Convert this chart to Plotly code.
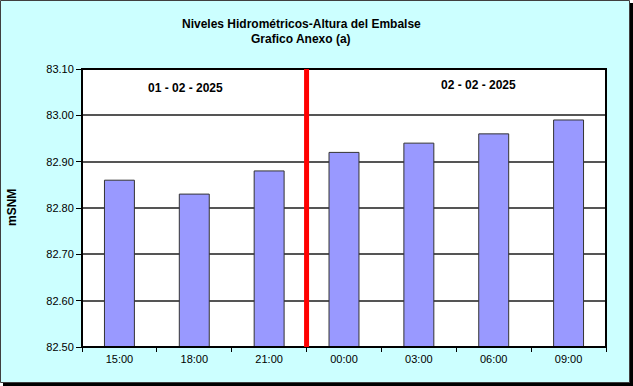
import plotly.graph_objects as go

categories = ["15:00", "18:00", "21:00", "00:00", "03:00", "06:00", "09:00"]
values = [82.86, 82.83, 82.88, 82.92, 82.94, 82.96, 82.99]
day_labels = ["01 - 02 - 2025", "02 - 02 - 2025"]
day1_count = 3
y_ticks = [82.50, 82.60, 82.70, 82.80, 82.90, 83.00, 83.10]

W, H = 633, 386
L, R, T, B = 82, 606, 69, 347

def px(x):
    return (x - L) / (R - L)

def py(y):
    return (B - y) / (B - T)

fig = go.Figure()
fig.add_trace(go.Bar(
    x=categories, y=values,
    marker=dict(color="#9999FF", line=dict(color="#333333", width=1)),
    width=0.4,
))

shapes = [
    # shadow
    dict(type="rect", xref="paper", yref="paper", x0=px(3), x1=px(633), y0=py(386), y1=py(3),
         fillcolor="black", line=dict(width=0), layer="below"),
    # chart area
    dict(type="rect", xref="paper", yref="paper", x0=px(0.5), x1=px(629.5), y0=py(382.5), y1=py(0.5),
         fillcolor="#CCFFFF", line=dict(color="#404040", width=1), layer="below"),
    # plot area
    dict(type="rect", xref="paper", yref="paper", x0=0, x1=1, y0=0, y1=1,
         fillcolor="white", line=dict(width=0), layer="below"),
    # plot border
    dict(type="rect", xref="paper", yref="paper", x0=0, x1=1, y0=0, y1=1,
         line=dict(color="black", width=2), layer="above"),
    # day divider
    dict(type="line", xref="x", yref="paper", x0=day1_count - 0.5, x1=day1_count - 0.5, y0=0, y1=1,
         line=dict(color="#FF0000", width=5), layer="above"),
]

def ann(text, x, y, angle=0):
    return dict(text=text, xref="paper", yref="paper", x=px(x), y=py(y), textangle=angle,
                xanchor="center", yanchor="middle", showarrow=False,
                font=dict(size=12, color="black"))

annotations = [
    ann("<b>Niveles Hidrométricos-Altura del Embalse</b>", 301, 24),
    ann("<b>Grafico Anexo (a)</b>", 301, 39),
    ann("<b>mSNM</b>", 12, 208, -90),
    ann("<b>" + day_labels[0] + "</b>", 185, 88),
    ann("<b>" + day_labels[1] + "</b>", 478, 85),
]

fig.update_layout(
    width=W, height=H,
    margin=dict(l=L, r=W - R, t=T, b=H - B, pad=0),
    paper_bgcolor="white", plot_bgcolor="rgba(0,0,0,0)",
    showlegend=False,
    font=dict(family="Liberation Sans, Arial, sans-serif", size=11, color="black"),
    shapes=shapes, annotations=annotations,
    xaxis=dict(type="category", range=[-0.5, len(categories) - 0.5], showgrid=False,
               ticks="outside", tickson="boundaries", ticklen=4, tickcolor="black",
               showline=False, tickfont=dict(size=11), ticklabelstandoff=4, fixedrange=True),
    yaxis=dict(range=[82.5, 83.1], tickvals=y_ticks, ticktext=[f"{v:.2f}" for v in y_ticks],
               showgrid=True, gridcolor="#555555", gridwidth=1.5, ticks="outside", ticklen=5,
               tickcolor="black", zeroline=False, showline=False, tickfont=dict(size=11),
               fixedrange=True),
)

fig.write_html("out.html", config={"displayModeBar": False},
               post_script="document.body.style.margin='0';document.body.style.overflow='hidden';")
